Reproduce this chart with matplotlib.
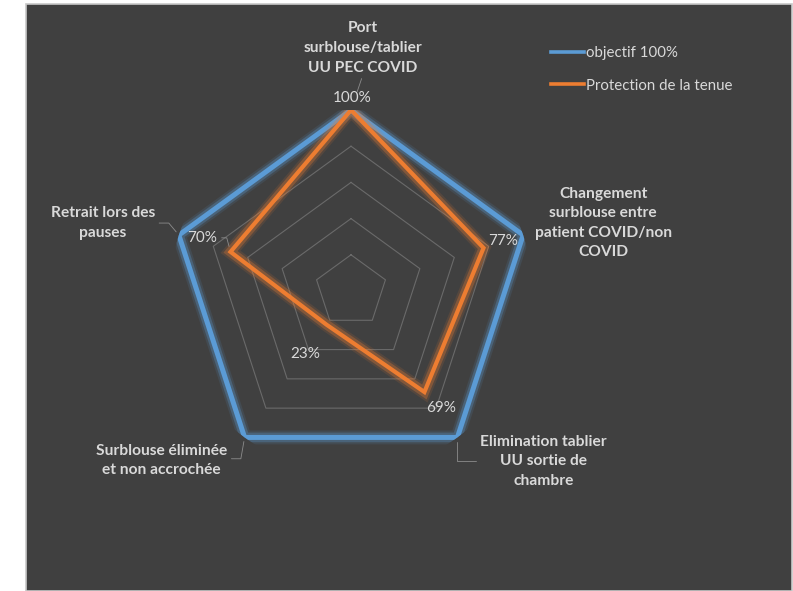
"""Radar chart: protection de la tenue vs objectif 100%."""

import numpy as np
import matplotlib

matplotlib.use("Agg")
import matplotlib.pyplot as plt  # noqa: E402
import matplotlib.patheffects as pe  # noqa: E402
from matplotlib.lines import Line2D  # noqa: E402
from matplotlib.patches import Rectangle  # noqa: E402

categories = [
    "Port\nsurblouse/tablier\nUU PEC COVID",
    "Changement\nsurblouse entre\npatient COVID/non\nCOVID",
    "Elimination tablier\nUU sortie de\nchambre",
    "Surblouse éliminée\net non accrochée",
    "Retrait lors des\npauses",
]
objectif = [1.0, 1.0, 1.0, 1.0, 1.0]
protection = [1.00, 0.77, 0.69, 0.23, 0.70]
grid_levels = [0.2, 0.4, 0.6, 0.8, 1.0]
series_names = ["objectif 100%", "Protection de la tenue"]

# pixel offsets for labels (layout only)
cat_offsets = [(12, 62), (80, 12), (86, -24), (-83, -23), (-76, 12)]
val_offsets = [(1, 12), (20, 7), (17, -16), (-21, -29), (-28, 14)]

# excel-like leader lines: (relpos, connectionstyle, shrinkB) or None
cat_leaders = [
    ((0.5, 0.0), "arc3", 14),
    None,
    ((0.0, 0.5), "angle,angleA=0,angleB=90,rad=0", 3),
    ((1.0, 0.55), "angle,angleA=0,angleB=80,rad=0", 3),
    ((1.0, 0.5), "angle,angleA=0,angleB=-50,rad=0", 3),
]
val_leaders = [None, None, None, None, ((1.0, 0.5), "angle,angleA=0,angleB=-75,rad=0", 4)]

BG = "#404040"
TXT = "#D9D9D9"
BLUE = "#5B9BD5"
ORANGE = "#ED7D31"
LEAD = "#8c8c8c"
FONT = "Lato"

W, H = 793, 591
fig = plt.figure(figsize=(W / 100, H / 100), dpi=100, facecolor="white")
fig.patches.append(Rectangle((26 / W, 0), (792 - 26) / W, (591 - 4) / H,
                             transform=fig.transFigure, facecolor=BG,
                             edgecolor="#c8c8c8", linewidth=1.2, zorder=-5))

cx, cy, R = 351, 291, 181
ax = fig.add_axes([(cx - R) / W, (H - cy - R) / H, 2 * R / W, 2 * R / H],
                  projection="polar")
ax.set_facecolor("none")
ax.set_theta_offset(np.pi / 2)
ax.set_theta_direction(-1)
ax.set_ylim(0, 1)
ax.grid(False)
ax.spines["polar"].set_visible(False)
ax.set_xticks([])
ax.set_yticks([])

n = len(categories)
angles = np.linspace(0, 2 * np.pi, n, endpoint=False)
closed = np.append(angles, angles[0])

for lv in grid_levels:
    ax.plot(closed, [lv] * (n + 1), color="#6a6a6a", lw=0.8, zorder=1)


def glow(color):
    return [pe.Stroke(linewidth=10, foreground=color, alpha=0.12),
            pe.Stroke(linewidth=7, foreground=color, alpha=0.3),
            pe.Normal()]


def leader(spec):
    if spec is None:
        return None
    relpos, cs, shrink_b = spec
    return dict(arrowstyle="-", color=LEAD, lw=0.6, relpos=relpos,
                connectionstyle=cs, shrinkA=1, shrinkB=shrink_b)


ax.plot(closed, objectif + objectif[:1], color=BLUE, lw=3.6,
        solid_joinstyle="miter", path_effects=glow(BLUE), zorder=3)
ax.plot(closed, protection + protection[:1], color=ORANGE, lw=3.0,
        solid_joinstyle="miter", path_effects=glow(ORANGE), zorder=4)

for a, v, off, ld in zip(angles, protection, val_offsets, val_leaders):
    ax.annotate(f"{v:.0%}", xy=(a, v), xytext=off, textcoords="offset pixels",
                ha="center", va="center", color=TXT, fontsize=11,
                family=FONT, annotation_clip=False, zorder=6,
                arrowprops=leader(ld))

for a, lab, off, ld in zip(angles, categories, cat_offsets, cat_leaders):
    ax.annotate(lab, xy=(a, 1.0), xytext=off, textcoords="offset pixels",
                ha="center", va="center", color=TXT, fontsize=11.2,
                fontweight="bold", family=FONT, linespacing=1.5,
                annotation_clip=False, zorder=6, arrowprops=leader(ld))

handles = [Line2D([], [], color=BLUE, lw=2.6), Line2D([], [], color=ORANGE, lw=2.6)]
fig.legend(handles, series_names, loc="upper left",
           bbox_to_anchor=(537 / W, 1 - 33 / H), frameon=False,
           handlelength=2.2, handletextpad=0.15, labelspacing=1.2,
           prop={"family": FONT, "size": 10.8}, labelcolor=TXT)

fig.savefig("out.png", dpi=100, facecolor="white")
